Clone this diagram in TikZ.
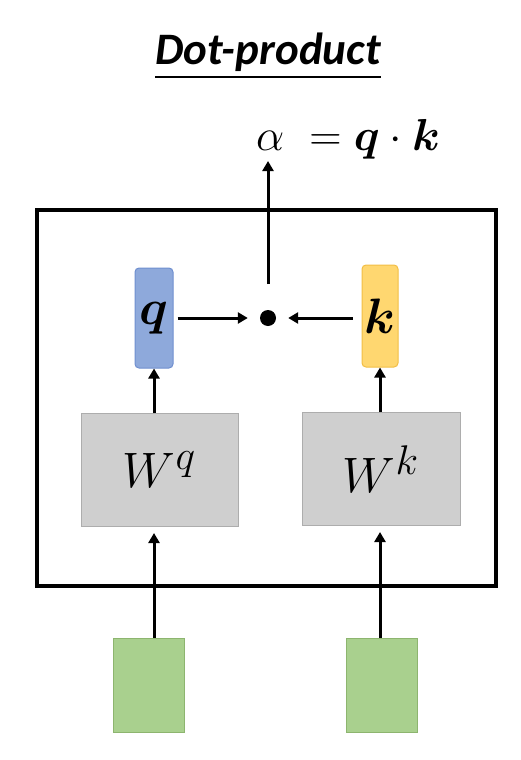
\documentclass[tikz,border=0pt]{standalone}
\usepackage{fix-cm}
\usepackage{fontspec}
\usepackage{amsmath,bm}
\newfontfamily\titlefont{Carlito}
\usetikzlibrary{arrows.meta,calc}
\definecolor{qfill}{HTML}{8EA9DB}
\definecolor{qdraw}{HTML}{6F8FCF}
\definecolor{kfill}{HTML}{FFD770}
\definecolor{kdraw}{HTML}{F2BE45}
\definecolor{wfill}{HTML}{CFCFCF}
\definecolor{wdraw}{HTML}{ADADAD}
\definecolor{gfill}{HTML}{A9D08E}
\definecolor{gdraw}{HTML}{8DB56F}
\newcommand{\mybigmath}[2][2.0]{\scalebox{#1}{\Huge$#2$}}
\begin{document}
\begin{tikzpicture}[x=1pt,y=-1pt,
  vec/.style={draw, line width=1pt, rounded corners=4pt, minimum width=#1, minimum height=100pt, inner sep=0pt},
  wbox/.style={draw=wdraw, fill=wfill, line width=1pt, minimum width=157pt, minimum height=113pt, inner sep=0pt},
  inbox/.style={draw=gdraw, fill=gfill, line width=1pt, minimum width=71pt, minimum height=94pt, inner sep=0pt},
  conn/.style={line width=3pt, -{Triangle[width=11pt,length=10pt]}},
  mathtxt/.style={inner sep=0pt}
]
\useasboundingbox (0,0) rectangle (520,760);
% title
\node[font=\titlefont\bfseries\itshape\fontsize{45}{52}\selectfont, anchor=base, inner sep=0pt] (title) at (268,65) {Dot-product};
\draw[line width=2pt] (title.south west |- 0,77) coordinate (ul1) -- (title.south east |- 0,77) coordinate (ul2);
% formula
\node[mathtxt, anchor=base west] (form) at (256,150) {\mybigmath[1.8]{\alpha\;=\boldsymbol{q}\cdot\boldsymbol{k}}};
% big box
\node[draw, line width=4pt, minimum width=459pt, minimum height=376pt, inner sep=0pt] (big) at (266.5,398) {};
% vectors
\node[vec=38pt, draw=qdraw, fill=qfill] (q) at (154,318) {};
\node[mathtxt] at (q) {\mybigmath{\boldsymbol{q}}};
\node[vec=36pt, draw=kdraw, fill=kfill, minimum height=102pt] (k) at (380,316) {};
\node[mathtxt] at (k) {\mybigmath{\boldsymbol{k}}};
\node[circle, fill=black, minimum size=16pt, inner sep=0pt] (dot) at (268,318) {};
% W boxes
\node[wbox] (wq) at (159.5,470) {};
\node[mathtxt] at (wq) {\mybigmath{W^{q}}};
\node[wbox, minimum width=158pt] (wk) at (381,469) {};
\node[mathtxt] at (wk) {\mybigmath{W^{k}}};
% inputs
\node[inbox] (x1) at (148.5,685) {};
\node[inbox] (x2) at (381.5,685) {};
% connectors
\coordinate (atip) at (268,161);
\draw[conn] (dot.north |- 0,284) -- (atip);
\draw[conn] ($(q.east)+(4,0)$) -- ($(dot.west)+(-12,0)$);
\draw[conn] ($(dot.east -| k.west)+(-9,0)$) -- ($(dot.east)+(12,0)$);
\draw[conn] (wq.north -| q) -- (q.south);
\draw[conn] (wk.north -| k) -- (k.south);
\draw[conn] (x1.north -| q) -- ($(wq.south -| q)+(0,6)$);
\draw[conn] (x2.north -| k) -- ($(wk.south -| k)+(0,6)$);
\end{tikzpicture}
\end{document}
